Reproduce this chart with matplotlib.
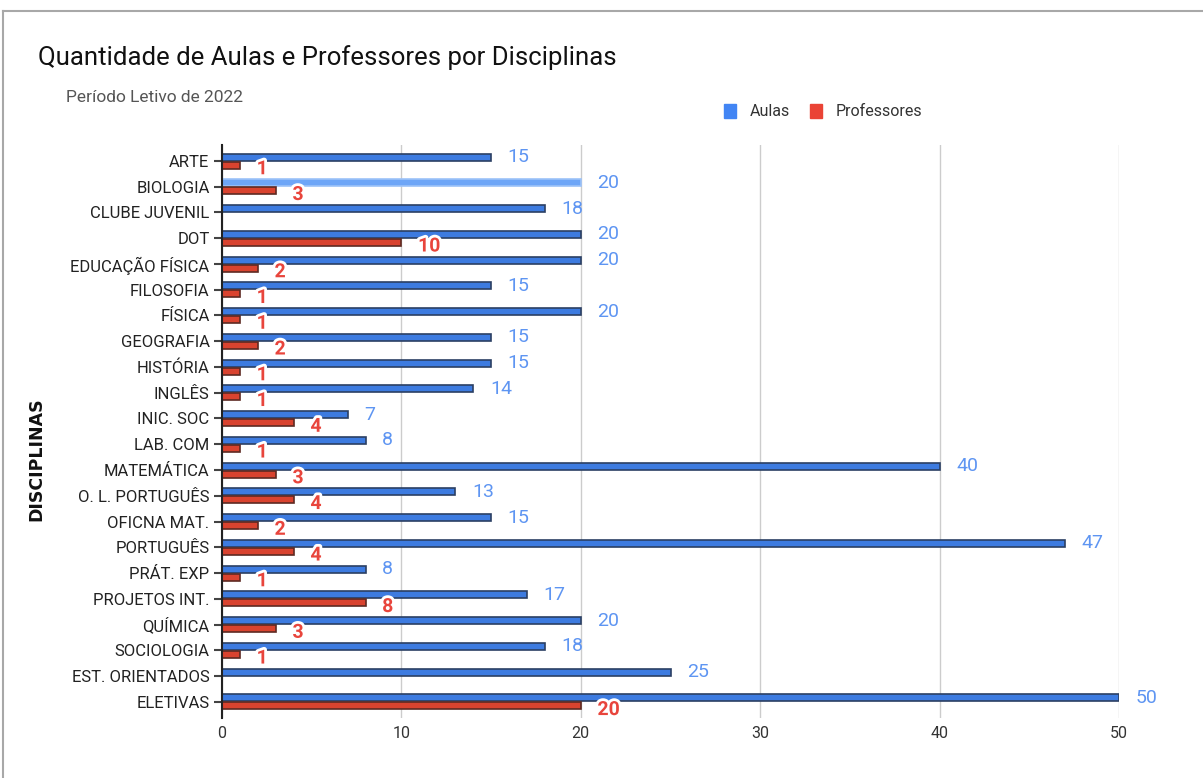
import matplotlib
matplotlib.use("Agg")
import matplotlib.pyplot as plt
import matplotlib.patheffects as pe

categories = ["ARTE", "BIOLOGIA", "CLUBE JUVENIL", "DOT", "EDUCAÇÃO FÍSICA",
              "FILOSOFIA", "FÍSICA", "GEOGRAFIA", "HISTÓRIA", "INGLÊS",
              "INIC. SOC", "LAB. COM", "MATEMÁTICA", "O. L. PORTUGUÊS",
              "OFICNA MAT.", "PORTUGUÊS", "PRÁT. EXP", "PROJETOS INT.",
              "QUÍMICA", "SOCIOLOGIA", "EST. ORIENTADOS", "ELETIVAS"]
aulas = [15, 20, 18, 20, 20, 15, 20, 15, 15, 14, 7, 8, 40, 13, 15, 47, 8, 17, 20, 18, 25, 50]
professores = [1, 3, 0, 10, 2, 1, 1, 2, 1, 1, 4, 1, 3, 4, 2, 4, 1, 8, 3, 1, 0, 20]
x_ticks = [0, 10, 20, 30, 40, 50]

plt.rcParams['font.family'] = ['Roboto', 'DejaVu Sans']

W, H = 1203, 778
fig = plt.figure(figsize=(W / 100, H / 100), dpi=100)
fig.patch.set_facecolor("white")

# page frame lines
fig.add_artist(plt.Line2D([3 / W, 1], [1 - 11 / H, 1 - 11 / H], color="#a8a8a8", lw=1.5))
fig.add_artist(plt.Line2D([3 / W, 3 / W], [0, 1 - 11 / H], color="#a8a8a8", lw=1.5))

left, right = 222, 1119
top, bottom = 145, 718
ax = fig.add_axes([left / W, 1 - bottom / H, (right - left) / W, (bottom - top) / H])

n = len(categories)
ys = list(range(n))
blue_y = [y - 0.15 for y in ys]
red_y = [y + 0.16 for y in ys]
blue_colors = ["#3d7be0"] * n
blue_edges = ["#2b3f63"] * n
blue_colors[1] = "#6ea6f7"
blue_edges[1] = "#9cc2f8"

ax.barh(blue_y, aulas, height=0.27, color=blue_colors, edgecolor=blue_edges, linewidth=1.2, zorder=3)
ax.barh(red_y, professores, height=0.27, color="#d9432f", edgecolor="#5e2a22", linewidth=1.2, zorder=3)

ax.set_xlim(0, 50)
ax.set_ylim(21.63, -0.62)
ax.set_yticks(ys)
ax.set_yticklabels(categories, fontsize=12, color="#222222")
ax.set_xticks(x_ticks)
ax.set_xticklabels([str(t) for t in x_ticks], fontsize=11.5, color="#333333")
ax.tick_params(axis="y", length=6, width=1.5, color="#444444", pad=3)
ax.tick_params(axis="x", length=0, pad=6)
ax.grid(axis="x", color="#cccccc", lw=1, zorder=0)
for s in ["top", "right", "bottom"]:
    ax.spines[s].set_visible(False)
ax.spines["left"].set_color("#222222")
ax.spines["left"].set_linewidth(1.5)
ax.spines["left"].set_zorder(5)

for y, v in zip(blue_y, aulas):
    ax.annotate(str(v), (v, y), xytext=(12, 0), textcoords="offset points",
                ha="left", va="center", fontsize=14, color="#5e95f2",
                annotation_clip=False, zorder=6)
for y, v in zip(red_y, professores):
    if v == 0:
        continue
    ax.annotate(str(v), (v, y), xytext=(12, -3), textcoords="offset points",
                ha="left", va="center", fontsize=14, color="#e8453c",
                fontweight="bold", annotation_clip=False, zorder=6,
                path_effects=[pe.withStroke(linewidth=4, foreground="white")])

ax.set_ylabel("DISCIPLINAS", fontsize=12.5, fontweight="bold", color="#111111",
              family=["DejaVu Sans"])
ax.yaxis.set_label_coords((45 - left) / (right - left), 0.452)

fig.text(38 / W, 1 - 58 / H, "Quantidade de Aulas e Professores por Disciplinas",
         fontsize=18.5, color="#111111", va="center", ha="left")
fig.text(66 / W, 1 - 97 / H, "Período Letivo de 2022", fontsize=12.5, color="#555555",
         va="center", ha="left")

# legend
fig.patches.append(plt.Rectangle((724 / W, 1 - 118 / H), 12 / W, 14 / H,
                                 transform=fig.transFigure, color="#4285f4"))
fig.text(750 / W, 1 - 111 / H, "Aulas", fontsize=11.5, color="#333333", va="center")
fig.patches.append(plt.Rectangle((810 / W, 1 - 118 / H), 12 / W, 14 / H,
                                 transform=fig.transFigure, color="#ea4335"))
fig.text(836 / W, 1 - 111 / H, "Professores", fontsize=11.5, color="#333333", va="center")

fig.savefig("out.png", dpi=100)
